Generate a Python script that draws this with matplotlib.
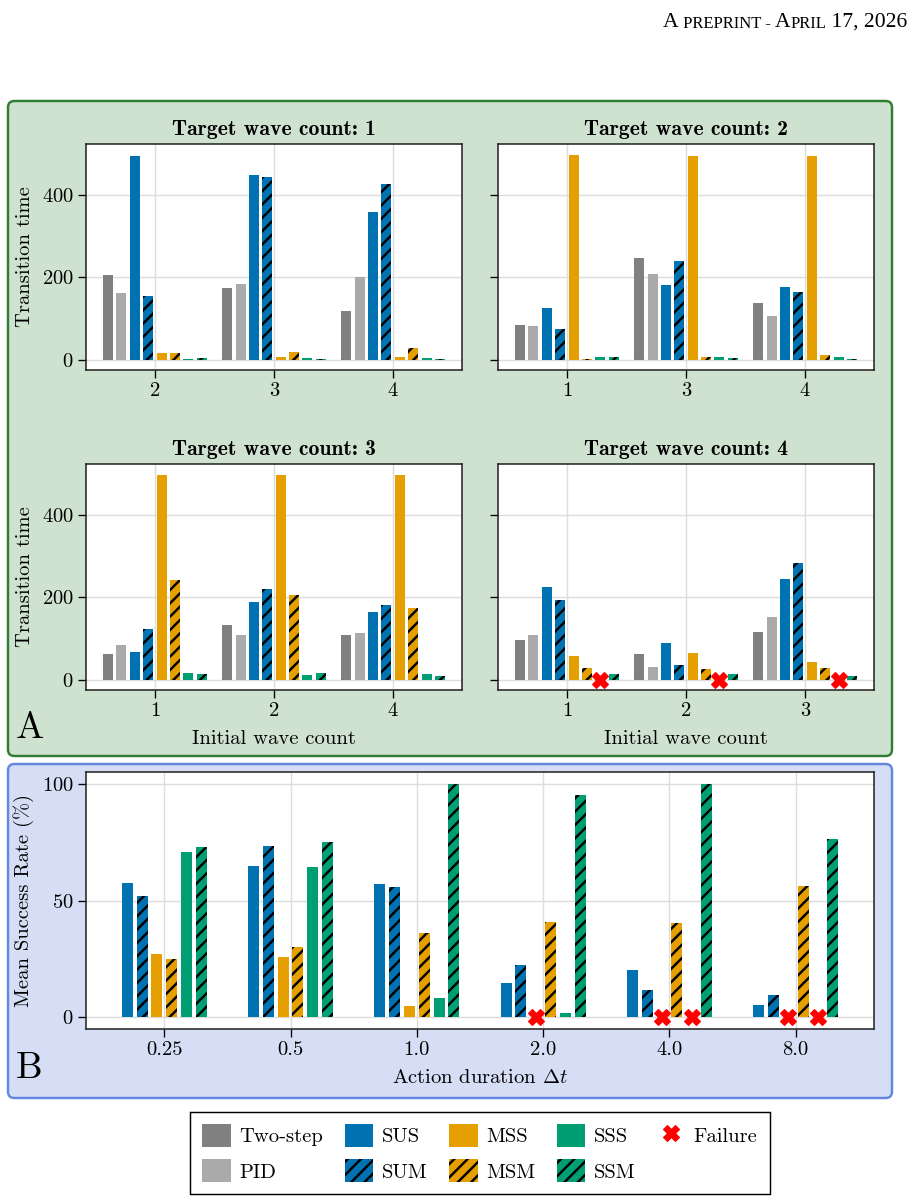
import numpy as np
import matplotlib
matplotlib.use("Agg")
import matplotlib.pyplot as plt
from matplotlib.patches import FancyBboxPatch, Patch
from matplotlib.lines import Line2D

# ---- data ----
methods = ["Two-step", "PID", "SUS", "SUM", "MSS", "MSM", "SSS", "SSM"]
colors = ["#808080", "#aaaaaa", "#0072b2", "#0072b2", "#e69f00", "#e69f00", "#009e73", "#009e73"]
hatched = [False, False, False, True, False, True, False, True]

nan = np.nan
targets = [1, 2, 3, 4]
initial = [["2", "3", "4"], ["1", "3", "4"], ["1", "2", "4"], ["1", "2", "3"]]

# rows follow `methods`, columns follow the initial wave counts
tt1 = [[206, 174, 118], [162, 184, 201], [494, 448, 358], [155, 443, 426],
       [17, 7, 7], [16, 19, 29], [2.5, 5, 5], [5, 2.5, 2.5]]
tt2 = [[85, 247, 138], [82, 208, 106], [126, 181, 177], [75, 240, 165],
       [498, 496, 494], [2.5, 7, 12], [7, 7, 7], [7, 5, 2.5]]
tt3 = [[63, 133, 109], [85, 109, 114], [68, 189, 165], [123, 221, 181],
       [498, 498, 498], [242, 206, 174], [17, 12, 14.5], [14.5, 16, 10]]
tt4 = [[97, 63, 116], [109, 31, 152], [225, 90, 244], [194, 36, 283],
       [58, 65, 44], [29, 27, 29], [nan, nan, nan], [14.5, 14.5, 10]]
transition = [tt1, tt2, tt3, tt4]

dt_labels = ["0.25", "0.5", "1.0", "2.0", "4.0", "8.0"]
# SUS, SUM, MSS, MSM, SSS, SSM
success = [[57.4, 64.6, 57.0, 14.6, 20.1, 5.2],
           [51.8, 73.4, 55.7, 22.6, 11.6, 9.5],
           [26.9, 26.0, 4.8, nan, nan, nan],
           [24.9, 30.3, 35.9, 40.9, 40.5, 56.2],
           [70.6, 64.2, 8.2, 1.8, nan, nan],
           [73.1, 75.1, 100, 95.2, 100, 76.5]]

# ---- style ----
W, H, DPI = 918, 1203, 80
FS = 18.5
plt.rcParams.update({
    "font.family": "cmr10",
    "mathtext.fontset": "cm",
    "axes.unicode_minus": False,
    "axes.formatter.use_mathtext": True,
    "hatch.linewidth": 2.2,
    "hatch.color": "black",
    "font.size": FS,
})

fig = plt.figure(figsize=(W / DPI, H / DPI), dpi=DPI)


def rect(l, t, r, b):
    return [l / W, 1 - b / H, (r - l) / W, (b - t) / H]


def panel(l, t, r, b, face, edge):
    box = FancyBboxPatch((l / DPI, (H - b) / DPI), (r - l) / DPI, (b - t) / DPI,
                         boxstyle="round,pad=0,rounding_size=0.08",
                         transform=fig.dpi_scale_trans, facecolor=face,
                         edgecolor=edge, lw=2.2, zorder=0)
    fig.add_artist(box)


def style(ax):
    ax.grid(True, color="#dddddd", lw=1.3)
    ax.set_axisbelow(True)
    for sp in ax.spines.values():
        sp.set_linewidth(1.4)
        sp.set_color("#222222")
    ax.tick_params(length=7, width=1.2, labelsize=FS, pad=4)


def bars(ax, labels, data, series, slot, width):
    x = np.arange(len(labels))
    n = len(series)
    for i, s in enumerate(series):
        vals = np.array(data[i], dtype=float)
        pos = x + (i - (n - 1) / 2) * slot
        ax.bar(pos, np.nan_to_num(vals), width, color=colors[s],
               hatch="//" if hatched[s] else None, linewidth=0, zorder=2)
        fail = np.isnan(vals)
        if fail.any():
            ax.plot(pos[fail], np.zeros(fail.sum()), "X", color="red", ms=14,
                    mec="red", zorder=4, clip_on=False)
    ax.set_xticks(x)
    ax.set_xticklabels(labels)


panel(8, 101, 892, 756, "#cfe2cf", "#2e7d32")
panel(8, 764, 892, 1098, "#d6def5", "#6487e1")

boxes = [(86, 144, 462, 370), (498, 144, 874, 370),
         (86, 464, 462, 690), (498, 464, 874, 690)]
axes = []
for k, bx in enumerate(boxes):
    ax = fig.add_axes(rect(*bx), sharey=axes[0] if axes else None)
    bars(ax, initial[k], transition[k], range(8), 0.1125, 0.084)
    ax.set_title(f"Target wave count: {targets[k]}", family="cmb10",
                 fontsize=FS + 1, pad=8)
    style(ax)
    ax.set_yticks([0, 200, 400])
    ax.set_ylim(-25, 524)
    if k % 2 == 0:
        ax.set_ylabel("Transition time", labelpad=7)
    else:
        ax.tick_params(labelleft=False)
    if k >= 2:
        ax.set_xlabel("Initial wave count", labelpad=9)
    axes.append(ax)

axb = fig.add_axes(rect(86, 772, 874, 1029))
bars(axb, dt_labels, success, range(2, 8), 0.117, 0.087)
style(axb)
axb.set_yticks([0, 50, 100])
axb.set_ylim(-5, 105)
axb.set_ylabel("Mean Success Rate (%)", labelpad=7)
axb.set_xlabel(r"Action duration $\Delta t$", labelpad=9)

fig.text(16 / W, 1 - 738 / H, "A", fontsize=34, va="baseline")
fig.text(16 / W, 1 - 1078 / H, "B", fontsize=34, va="baseline")

# legend
handles = [Patch(facecolor=colors[i], hatch="//" if hatched[i] else None,
                 linewidth=0) for i in range(8)]
handles.append(Line2D([], [], marker="X", color="red", ls="none", ms=14))
labels = methods + ["Failure"]
leg = fig.legend(handles, labels, ncol=5, loc="upper center",
                 bbox_to_anchor=(480 / W, 1 - 1112 / H), borderaxespad=0,
                 frameon=True, fancybox=False, edgecolor="black", framealpha=1,
                 handlelength=1.4, handleheight=1.3, handletextpad=0.4,
                 columnspacing=1.05, labelspacing=0.62, borderpad=0.6,
                 fontsize=FS)
leg.get_frame().set_linewidth(1.3)

# running header in small caps
hax = fig.add_axes([0, 0, 1, 1])
hax.axis("off")
pieces = [("A", 19.5), (" PREPRINT - ", 15), ("A", 19.5), ("PRIL", 15), (" 17, 2026", 19.5)]
prev = hax.text(663 / W, 1 - 32 / H, pieces[0][0], fontsize=pieces[0][1],
                family="Liberation Serif", va="bottom")
for txt, size in pieces[1:]:
    prev = hax.annotate(txt, xy=(1, 0), xycoords=prev, va="bottom", ha="left",
                        fontsize=size, family="Liberation Serif")

fig.savefig("out.png", dpi=DPI)
